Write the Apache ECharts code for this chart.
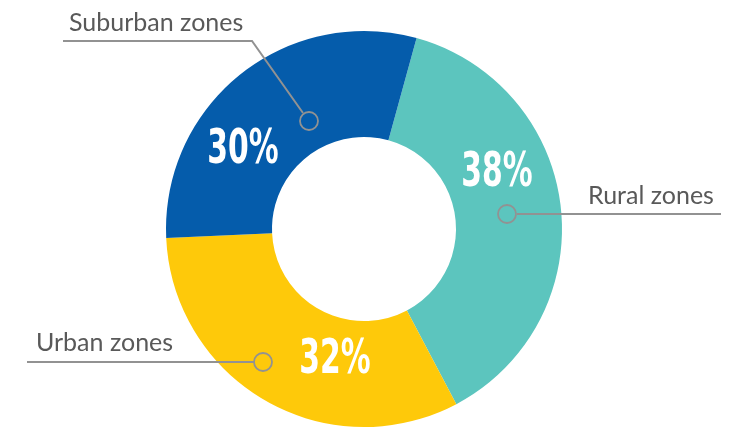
<!DOCTYPE html>
<html>
<head>
<meta charset="utf-8">
<script src="https://cdn.jsdelivr.net/npm/echarts@6/dist/echarts.min.js"></script>
<style>
  html, body { margin: 0; padding: 0; background: #fff; }
  #pie1 { width: 753px; height: 428px; }
</style>
</head>
<body>
<div id="pie1"></div>
<script>
// data
var zoneNames = ['Rural zones', 'Urban zones', 'Suburban zones'];
var zoneShares = [38, 32, 30];
var zoneColors = ['#5cc5be', '#fec90a', '#055cab'];

// where the white percent labels sit (centre of text)
var pctPos = [[497, 174], [335, 361], [243, 151]];
// name labels: text anchor and the leader line (circle -> elbow -> end)
var namePos = [[588, 196], [36, 343], [69, 23]];
var leaderPts = [
    [[517, 214], [600, 214], [721, 214]],
    [[254, 362], [150, 362], [27, 362]],
    [[303, 113], [252, 41], [63, 41]]
];
var dotPos = [[507, 214], [263, 362], [309, 121]];

var lineGray = '#929292';

var seriesData = zoneNames.map(function (n, i) {
    return { name: n, value: zoneShares[i], itemStyle: { color: zoneColors[i] } };
});

var myChart = echarts.init(document.getElementById('pie1'));

// big condensed percent numbers (no narrow font installed, so squeeze DejaVu Condensed)
var pctTexts = zoneShares.map(function (v, i) {
    return {
        type: 'text',
        z: 100,
        x: pctPos[i][0],
        y: pctPos[i][1],
        scaleX: 0.69,
        silent: true,
        style: {
            text: v + '%',
            x: 0,
            y: 0,
            fill: '#fff',
            font: 'bold 48px "DejaVu Sans Condensed", sans-serif',
            textAlign: 'center',
            textVerticalAlign: 'middle'
        }
    };
});

var dots = dotPos.map(function (p) {
    return {
        type: 'circle',
        z: 100,
        shape: { cx: p[0], cy: p[1], r: 9 },
        style: { fill: 'none', stroke: lineGray, lineWidth: 1.8 }
    };
});

var option = {
    animation: false,
    series: [
        {
            type: 'pie',
            center: [364, 229],
            radius: [92, 198],
            startAngle: 74.6,
            clockwise: true,
            silent: true,
            data: seriesData,
            label: { show: false },
            labelLine: { show: false }
        },
        {
            // transparent copy, only used for the name labels + leader lines
            type: 'pie',
            center: [364, 229],
            radius: [92, 198],
            startAngle: 74.6,
            silent: true,
            z: 3,
            data: zoneNames.map(function (n, i) {
                return { name: n, value: zoneShares[i] };
            }),
            itemStyle: { color: 'rgba(0,0,0,0)' },
            label: {
                show: true,
                position: 'outside',
                formatter: '{b}',
                color: '#595959',
                fontFamily: 'Lato, sans-serif',
                fontSize: 25
            },
            labelLine: {
                show: true,
                smooth: false,
                lineStyle: { color: lineGray, width: 2 }
            },
            labelLayout: function (params) {
                var i = params.dataIndex;
                return {
                    x: namePos[i][0],
                    y: namePos[i][1],
                    align: 'left',
                    verticalAlign: 'middle',
                    labelLinePoints: leaderPts[i]
                };
            }
        }
    ],
    graphic: pctTexts.concat(dots)
};

myChart.setOption(option);
window.onresize = myChart.resize;
</script>
</body>
</html>
